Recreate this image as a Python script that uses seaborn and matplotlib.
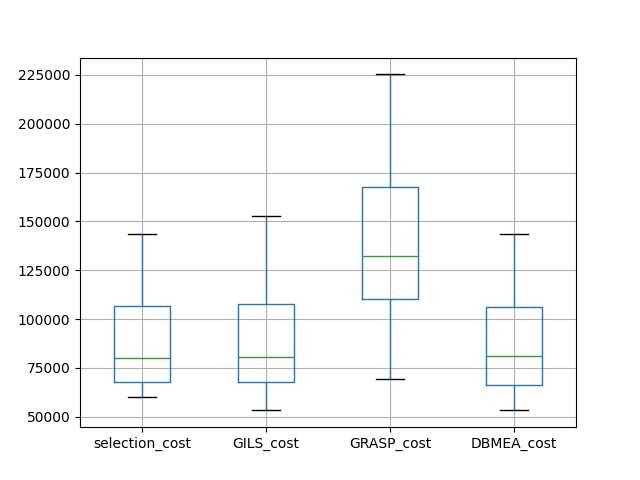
"""Box plot of route costs per algorithm."""
import matplotlib
matplotlib.use("Agg")
import matplotlib.pyplot as plt
import pandas as pd
import seaborn as sns

# values: min, Q1, median, Q3, max
selection_cost = [59900, 67600, 80000, 106500, 143300]
GILS_cost = [53300, 67600, 80500, 107500, 153000]
GRASP_cost = [69300, 110100, 132200, 167400, 225200]
DBMEA_cost = [53300, 66100, 81000, 106300, 143500]

df = pd.DataFrame({
    "selection_cost": selection_cost,
    "GILS_cost": GILS_cost,
    "GRASP_cost": GRASP_cost,
    "DBMEA_cost": DBMEA_cost,
})

fig, ax = plt.subplots(figsize=(6.4, 4.8), dpi=100)
sns.boxplot(
    data=df, ax=ax, fill=False, color="#1f77b4", width=0.45, linewidth=1.0,
    whis=1.5,
    medianprops={"color": "#2ca02c"},
    capprops={"color": "black"},
)
ax.grid(True)
ax.set_axisbelow(True)
ax.set_xlabel("")
ax.set_ylabel("")

fig.savefig("out.png", dpi=100)
